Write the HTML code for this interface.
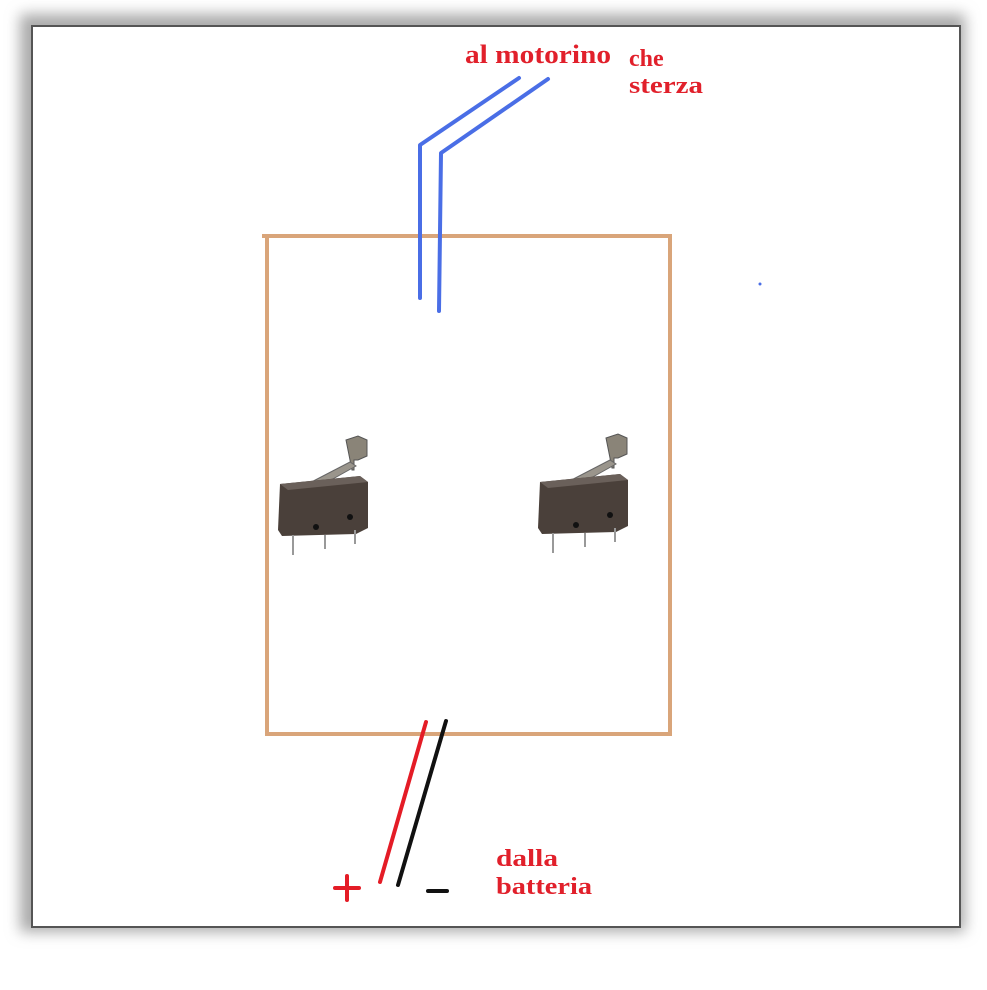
<!DOCTYPE html>
<html><head><style>
html,body{margin:0;padding:0;background:#fff;width:987px;height:990px;overflow:hidden}
svg{display:block}
text{font-family:"Liberation Serif",serif;fill:#e1202b;font-weight:bold}
</style></head><body>
<svg width="987" height="990" viewBox="0 0 987 990">
<defs>
<filter id="blur" x="-10%" y="-10%" width="120%" height="120%"><feGaussianBlur stdDeviation="7"/></filter>
<g id="sw">
  <path d="M346 440 l12 -4 l9 4 l0 16 l-9 4 l-4 0 l0 10 l-2 0 z" fill="#8a8478" stroke="#555" stroke-width="1"/>
  <path d="M296 490 L350 462 L356 466 L306 494 z" fill="#9a958c" stroke="#666" stroke-width="1"/>
  <path d="M280 484 L360 476 L368 482 L368 528 L356 534 L282 536 L278 530 z" fill="#4a403a"/>
  <path d="M280 484 L360 476 L368 482 L288 490 z" fill="#6a605a"/>
  <circle cx="316" cy="527" r="3" fill="#111"/>
  <circle cx="350" cy="517" r="3" fill="#111"/>
  <rect x="292" y="535" width="2" height="20" fill="#999"/>
  <rect x="324" y="535" width="2" height="14" fill="#999"/>
  <rect x="354" y="530" width="2" height="14" fill="#999"/>
</g>
</defs>
<rect x="20" y="14" width="945" height="918" fill="#aaa" filter="url(#blur)"/>
<rect x="32" y="26" width="928" height="901" fill="#fff" stroke="#555" stroke-width="2"/>
<path d="M262 236 L670 236 L670 734 L267 734 L267 236" fill="none" stroke="#d9a57a" stroke-width="4"/>
<path d="M519 78 L420 145 L420 298" fill="none" stroke="#4a6ee6" stroke-width="4" stroke-linecap="round" stroke-linejoin="round"/>
<path d="M548 79 L441 153 L439 311" fill="none" stroke="#4a6ee6" stroke-width="4" stroke-linecap="round" stroke-linejoin="round"/>
<circle cx="760" cy="284" r="1.5" fill="#4a6ee6"/>
<use href="#sw"/>
<use href="#sw" transform="translate(260,-2)"/>
<path d="M426 722 L380 882" stroke="#e41c26" stroke-width="4" stroke-linecap="round"/>
<path d="M446 721 L398 885" stroke="#111" stroke-width="4" stroke-linecap="round"/>
<path d="M335 888 L359 888 M347 876 L347 900" stroke="#e41c26" stroke-width="4" stroke-linecap="round"/>
<path d="M428 891 L447 891" stroke="#111" stroke-width="4" stroke-linecap="round"/>
<text x="465" y="63" font-size="26" textLength="146" lengthAdjust="spacingAndGlyphs">al motorino</text>
<text x="629" y="66" font-size="24">che</text>
<text x="629" y="93" font-size="24" textLength="74" lengthAdjust="spacingAndGlyphs">sterza</text>
<text x="496" y="866" font-size="24" textLength="62" lengthAdjust="spacingAndGlyphs">dalla</text>
<text x="496" y="894" font-size="24" textLength="96" lengthAdjust="spacingAndGlyphs">batteria</text>
</svg>
</body></html>
